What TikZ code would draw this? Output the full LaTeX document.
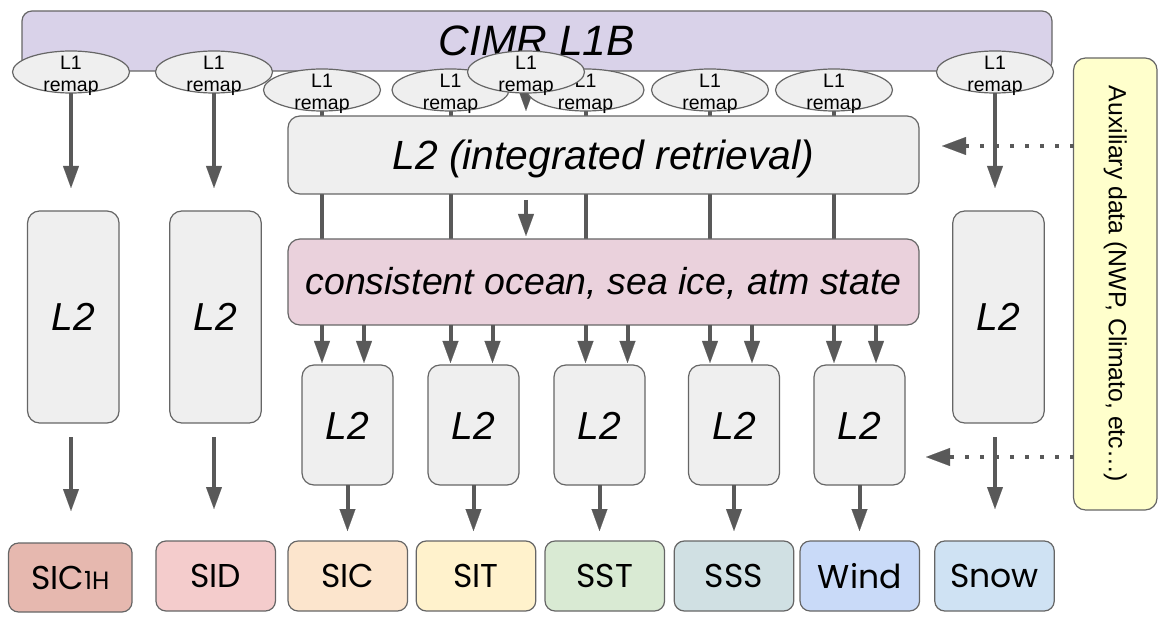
\documentclass[tikz,border=0pt]{standalone}
\usepackage{fontspec}
\setmainfont{Liberation Sans}
\newfontfamily\prodfont{Poppins}
\usetikzlibrary{shapes.geometric,arrows.meta,calc}
\definecolor{bordercol}{HTML}{666666}
\definecolor{arrowcol}{HTML}{595959}
\definecolor{lgray}{HTML}{EFEFEF}
\definecolor{cimrfill}{HTML}{D9D2E9}
\definecolor{consfill}{HTML}{EAD1DC}
\definecolor{auxfill}{HTML}{FFFFCC}
\definecolor{cSICh}{HTML}{E6B8AF}
\definecolor{cSID}{HTML}{F4CCCC}
\definecolor{cSIC}{HTML}{FCE5CD}
\definecolor{cSIT}{HTML}{FFF2CC}
\definecolor{cSST}{HTML}{D9EAD3}
\definecolor{cSSS}{HTML}{D0E0E3}
\definecolor{cWind}{HTML}{C9DAF8}
\definecolor{cSnow}{HTML}{CFE2F3}
\pgfdeclarelayer{bg}
\pgfsetlayers{bg,main}
\begin{document}
\begin{tikzpicture}[x=1pt,y=-1pt,
  every node/.style={inner sep=0pt,outer sep=0pt},
  box/.style={draw=bordercol,line width=1.2pt,rounded corners=12pt,fill=lgray},
  bigtxt/.style={font=\fontsize{39}{39}\selectfont\itshape,text height=28pt,text depth=0pt},
  l2tall/.style={box,bigtxt,minimum width=91.5pt,minimum height=212pt},
  l2small/.style={box,bigtxt,minimum width=91pt,minimum height=120pt},
  prod/.style={draw=bordercol,line width=1.2pt,rounded corners=10pt,minimum width=119.5pt,minimum height=70pt,font=\prodfont\fontsize{33}{33}\selectfont},
  remap/.style={ellipse,draw=bordercol,line width=1.2pt,fill=lgray,minimum width=117pt,minimum height=42pt,inner sep=0pt},
  remaptxt/.style={font=\fontsize{19.5}{22}\selectfont,align=center,yshift=-4pt},
  arr/.style={draw=arrowcol,line width=4pt,-{Triangle[width=16pt,length=22pt,line width=0.1pt]}},
  plain/.style={draw=arrowcol,line width=4pt},
  dotarr/.style={draw=arrowcol,line width=4pt,dash pattern=on 4pt off 11pt,-{Triangle[width=18pt,length=24pt,line width=0.1pt]}}
]
\useasboundingbox (0,0) rectangle (1162,617);

% top box
\node[box,fill=cimrfill,rounded corners=10pt,minimum width=1030pt,minimum height=60pt,
  font=\fontsize{42.5}{42.5}\selectfont\itshape,text height=29pt,text depth=0pt] (cimr) at (537,41) {CIMR L1B};

% remap ellipses, lower row
\node[remap,label={[remaptxt]center:{L1\\remap}}] (rb1) at (322,90) {};
\node[remap,label={[remaptxt]center:{L1\\remap}}] (rb2) at (450.5,90) {};
\node[remap,label={[remaptxt]center:{L1\\remap}}] (rb3) at (585.5,90) {};
\node[remap,label={[remaptxt]center:{L1\\remap}}] (rb4) at (710,90) {};
\node[remap,label={[remaptxt]center:{L1\\remap}}] (rb5) at (834,90) {};
% remap ellipses, upper row
\node[remap,label={[remaptxt]center:{L1\\remap}}] (ra1) at (71,72) {};
\node[remap,label={[remaptxt]center:{L1\\remap}}] (ra2) at (214,72) {};
\node[remap,label={[remaptxt]center:{L1\\remap}}] (ra3) at (526,72) {};
\node[remap,label={[remaptxt]center:{L1\\remap}}] (ra4) at (995,72) {};

% integrated retrieval and consistent state
\node[box,minimum width=631pt,minimum height=78pt,font=\fontsize{40.8}{40.8}\selectfont\itshape,
  text height=29pt,text depth=0pt] (integ) at (603.5,155) {L2 (integrated retrieval)};
\node[box,fill=consfill,minimum width=631pt,minimum height=86pt,font=\fontsize{37.5}{37.5}\selectfont\itshape,
  text height=26pt,text depth=0pt] (cons) at (603.5,282) {consistent ocean, sea ice, atm state};

% tall L2 boxes
\node[l2tall] (t1) at (73.3,317) {L2};
\node[l2tall] (t2) at (215.5,317) {L2};
\node[l2tall] (t3) at (998.5,317) {L2};

% small L2 boxes
\node[l2small] (s1) at (347.5,425) {L2};
\node[l2small] (s2) at (473.5,425) {L2};
\node[l2small] (s3) at (599.5,425) {L2};
\node[l2small] (s4) at (734,425) {L2};
\node[l2small] (s5) at (859.5,425) {L2};

% products
\node[prod,fill=cSICh,minimum width=123.5pt,minimum height=69pt] (p1) at (70.3,577.5) {SIC{\fontsize{25}{25}\selectfont 1H}};
\node[prod,fill=cSID] (p2) at (215.7,576) {SID};
\node[prod,fill=cSIC] (p3) at (347.8,576) {SIC};
\node[prod,fill=cSIT] (p4) at (476,576) {SIT};
\node[prod,fill=cSST] (p5) at (604.8,576) {SST};
\node[prod,fill=cSSS] (p6) at (734,576) {SSS};
\node[prod,fill=cWind] (p7) at (859.8,576) {Wind};
\node[prod,fill=cSnow] (p8) at (994.5,576) {Snow};

% auxiliary data
\node[box,fill=auxfill,rotate=-90,minimum width=452pt,minimum height=83.5pt,
  font=\fontsize{24.8}{24.8}\selectfont] (aux) at (1115.3,284) {Auxiliary data (NWP, Climato, etc…)};

% connectors behind boxes
\begin{pgfonlayer}{bg}
  \foreach \r in {rb1,rb2,rb3,rb4,rb5} {
    \draw[plain] (\r.center) -- (\r.center |- cons.north);
  }
  \draw[arr] (ra3.center) -- (ra3.center |- integ.north) [shorten >=5pt];
\end{pgfonlayer}

% side columns
\draw[arr,shorten >=23pt] (ra1.south) -- (ra1.south |- t1.north);
\draw[arr,shorten >=23pt] (ra2.south) -- (ra2.south |- t2.north);
\draw[arr,shorten >=23pt] (ra4.south) -- (ra4.south |- t3.north);
\draw[arr,shorten <=14pt,shorten >=32pt] (ra1.south |- t1.south) -- (ra1.south |- p1.north);
\draw[arr,shorten <=14pt,shorten >=32pt] (ra2.south |- t2.south) -- (ra2.south |- p2.north);
\draw[arr,shorten <=14pt,shorten >=32pt] (ra4.south |- t3.south) -- (ra4.south |- p8.north);

% integrated -> consistent
\draw[arr,shorten <=6pt,shorten >=3pt] (ra3.south |- integ.south) -- (ra3.south |- cons.north);

% consistent -> small L2
\foreach \r/\s in {rb1/s1,rb2/s2,rb3/s3,rb4/s4,rb5/s5} {
  \draw[arr,shorten >=2pt] (\r.center |- cons.south) -- (\r.center |- \s.north);
  \draw[arr,shorten >=2pt] ($(\r.center |- cons.south)+(42,0)$) -- ($(\r.center |- \s.north)+(42,0)$);
}

% small L2 -> products
\draw[arr,shorten >=10pt] (s1.south) -- (s1.south |- p3.north);
\draw[arr,shorten >=10pt] (s2.south) -- (s2.south |- p4.north);
\draw[arr,shorten >=10pt] (s3.south) -- (s3.south |- p5.north);
\draw[arr,shorten >=10pt] (s4.south) -- (s4.south |- p6.north);
\draw[arr,shorten >=10pt] (s5.south) -- (s5.south |- p7.north);

% auxiliary dotted arrows
\coordinate (d1) at (942,146);
\coordinate (d2) at (926,457);
\draw[dotarr] (aux.south |- d1) -- (d1);
\draw[dotarr] (aux.south |- d2) -- (d2);
\end{tikzpicture}
\end{document}
